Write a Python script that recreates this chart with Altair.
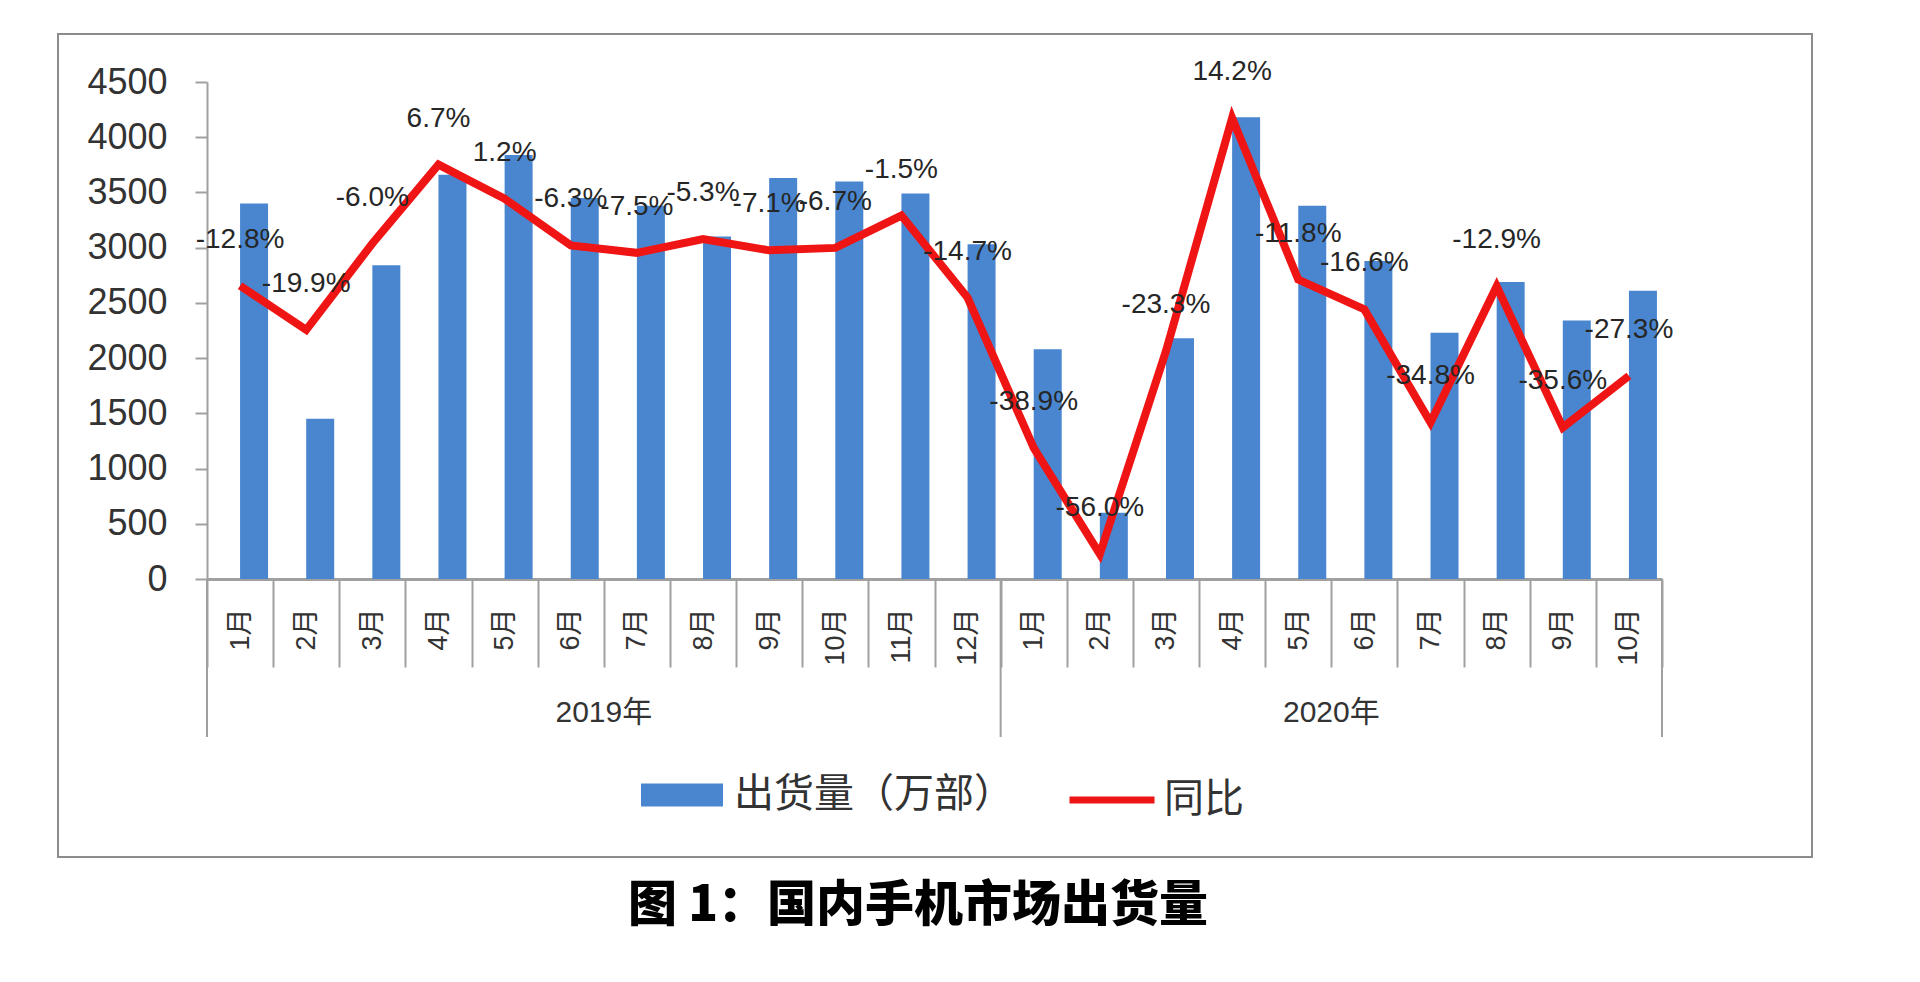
import altair as alt
import pandas as pd

# ---------------- data ----------------
cats = ["2019-01", "2019-02", "2019-03", "2019-04", "2019-05", "2019-06",
        "2019-07", "2019-08", "2019-09", "2019-10", "2019-11", "2019-12",
        "2020-01", "2020-02", "2020-03", "2020-04", "2020-05", "2020-06",
        "2020-07", "2020-08", "2020-09", "2020-10"]
shipments = [3400, 1450, 2840, 3660, 3840, 3450, 3380, 3100, 3630, 3600, 3490, 3030,
             2080, 600, 2180, 4180, 3380, 2880, 2230, 2690, 2340, 2610]
yoy = [-12.8, -19.9, -6.0, 6.7, 1.2, -6.3, -7.5, -5.3, -7.1, -6.7, -1.5, -14.7,
       -38.9, -56.0, -23.3, 14.2, -11.8, -16.6, -34.8, -12.9, -35.6, -27.3]
yoy_labels = [f"{v:.1f}%" for v in yoy]

year_names = ["2019年", "2020年"]
year_mid = ["2019-07", "2020-06"]          # group centre = start of this month's band
year_starts = ["2019-01", "2020-01"]
year_end = ["2020-10"]

bar_name = "出货量（万部）"
line_name = "同比"
title_text = "图 1：国内手机市场出货量"

left_ticks = list(range(0, 4501, 500))
right_ticks = list(range(-60, 21, 10))

BLUE = "#4a86d0"
RED = "#f01515"
GRAY = "#a0a0a0"
TXT = "#333333"
FONT = "'Liberation Sans', 'Noto Sans CJK SC'"
CJK = "'Noto Sans CJK SC'"

df = pd.DataFrame({"cat": cats, "shipments": shipments, "yoy": yoy,
                   "label": yoy_labels})
df["bar_series"] = bar_name
df["line_series"] = line_name

W, H = 1455, 497
xscale = alt.Scale(domain=cats, paddingInner=0, paddingOuter=0)
x_axis = alt.Axis(
    title=None, tickBand="extent", tickSize=88, tickColor=GRAY, tickWidth=2,
    domainColor=GRAY, domainWidth=3, labelAngle=270, labelPadding=-59,
    labelFontSize=27, labelFont=FONT, labelColor=TXT, labelOverlap=False,
    labelExpr="isString(datum.value) ? toNumber(substring(datum.value, 5, 7)) + '月' : ''")


def xenc(field="cat", **kw):
    return alt.X(f"{field}:N", scale=xscale, sort=cats, axis=x_axis, **kw)


# ---------------- bars (left axis) ----------------
bars = alt.Chart(df).mark_bar(width=28, xOffset=14).encode(
    x=xenc(),
    y=alt.Y("shipments:Q", scale=alt.Scale(domain=[0, 4500], nice=False),
            axis=alt.Axis(title=None, values=left_ticks, grid=False, tickSize=12,
                          tickColor=GRAY, tickWidth=2, domainColor=GRAY, domainWidth=2,
                          labelFontSize=36, labelPadding=28, labelColor=TXT,
                          labelFont=FONT, format="d")),
    fill=alt.Fill("bar_series:N", scale=alt.Scale(domain=[bar_name], range=[BLUE]),
                  legend=alt.Legend(title=None, orient="none", legendX=434, legendY=672,
                                    symbolType="M-1,-0.28L1,-0.28L1,0.28L-1,0.28Z",
                                    symbolSize=6724, symbolStrokeWidth=0,
                                    labelFontSize=40, labelFont=CJK, labelColor=TXT,
                                    labelOffset=11, labelLimit=500, padding=0)),
)

# ---------------- line + labels (right axis) ----------------
line = alt.Chart(df).mark_line(strokeWidth=8, strokeJoin="miter").encode(
    x=xenc(),
    y=alt.Y("yoy:Q", scale=alt.Scale(domain=[-60, 20], nice=False),
            axis=alt.Axis(title=None, orient="right", values=right_ticks, grid=False,
                          tickSize=13, tickColor=GRAY, tickWidth=2, domainColor=GRAY,
                          domainWidth=2, labelFontSize=35, labelPadding=27,
                          labelColor=TXT, labelFont=FONT,
                          labelExpr="datum.value + '%'")),
    stroke=alt.Stroke("line_series:N", scale=alt.Scale(domain=[line_name], range=[RED]),
                      legend=alt.Legend(title=None, orient="none", legendX=859, legendY=672,
                                        symbolType="stroke", symbolSize=7225,
                                        symbolStrokeWidth=7, labelFontSize=40,
                                        labelFont=CJK, labelColor=TXT, labelOffset=6,
                                        labelLimit=300, padding=0)),
)

labels = alt.Chart(df).mark_text(dy=-46, fontSize=28, font=FONT, color="#262626").encode(
    x=xenc(),
    y=alt.Y("yoy:Q", scale=alt.Scale(domain=[-60, 20], nice=False), axis=None),
    text="label:N",
)

right_layer = alt.layer(line, labels)

# ---------------- year grouping ----------------
rules_start = alt.Chart(pd.DataFrame({"cat": year_starts})).mark_rule(
    color=GRAY, strokeWidth=2).encode(
    x=xenc(bandPosition=0),
    y=alt.value(H), y2=alt.value(H + 158))
rules_end = alt.Chart(pd.DataFrame({"cat": year_end})).mark_rule(
    color=GRAY, strokeWidth=2).encode(
    x=xenc(bandPosition=1),
    y=alt.value(H), y2=alt.value(H + 158))
years = alt.Chart(pd.DataFrame({"cat": year_mid, "name": year_names})).mark_text(
    fontSize=30, font=FONT, color=TXT, baseline="middle").encode(
    x=xenc(bandPosition=0),
    y=alt.value(H + 134),
    text="name:N")

# ---------------- frame and caption ----------------
frame = alt.Chart(pd.DataFrame({"k": [0]})).mark_rect(
    fillOpacity=0, stroke="#8c8c8c", strokeWidth=2).encode(
    x=alt.value(-149), x2=alt.value(1605), y=alt.value(-48), y2=alt.value(775))

caption = alt.Chart(pd.DataFrame({"t": [title_text]})).mark_text(
    fontSize=49, fontWeight=900, font=CJK, color="#000000", baseline="middle").encode(
    x=alt.value(711), y=alt.value(824), text="t:N")

chart = alt.layer(frame, bars, right_layer, rules_start, rules_end, years, caption).resolve_scale(
    y="independent"
).properties(
    width=W, height=H,
    autosize=alt.AutoSizeParams(type="none"),
    padding={"left": 199, "top": 74, "right": 250, "bottom": 388},
    background="white",
).configure_view(stroke=None)

chart.save("out.html", embed_options={"renderer": "svg", "actions": False})
